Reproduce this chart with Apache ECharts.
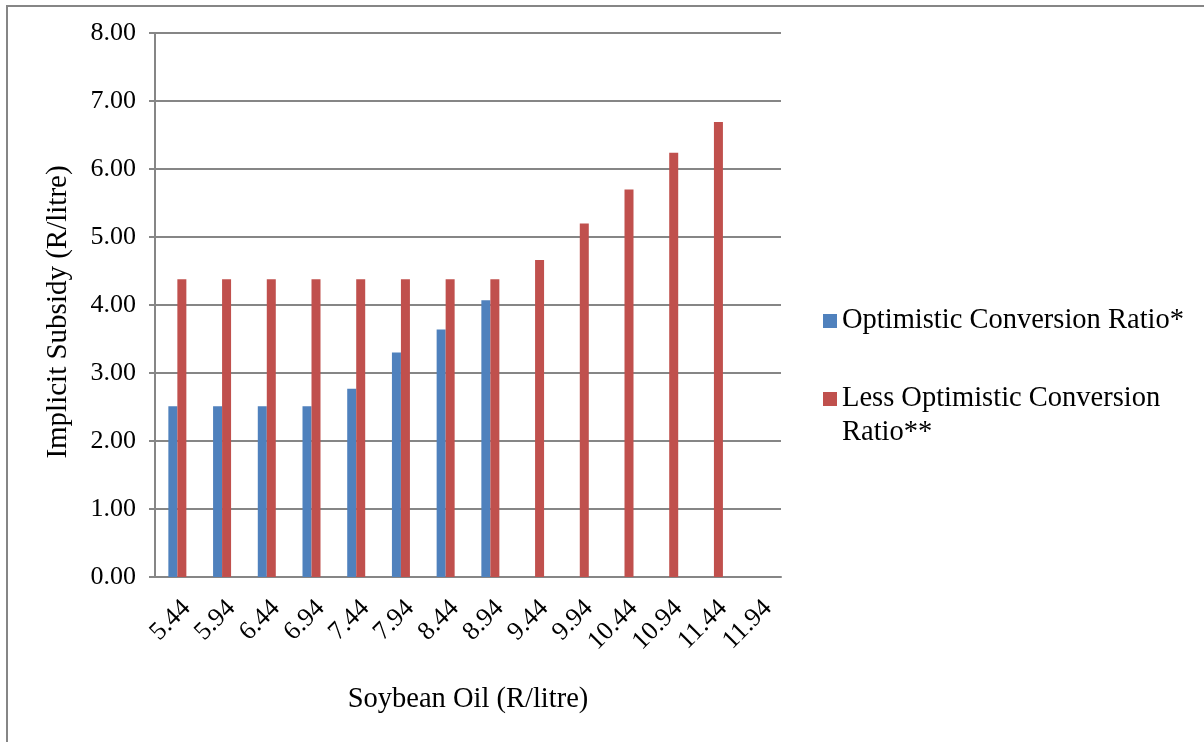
<!DOCTYPE html>
<html>
<head>
<meta charset="utf-8">
<script src="https://cdn.jsdelivr.net/npm/echarts@6/dist/echarts.min.js"></script>
<style>
  html, body { margin: 0; padding: 0; background: #ffffff; }
  #chart { width: 1204px; height: 742px; }
</style>
</head>
<body>
<div id="chart"></div>
<script>
// Soybean oil price (R/litre) on the category axis
const oilPrices = ['5.44', '5.94', '6.44', '6.94', '7.44', '7.94', '8.44', '8.94',
                   '9.44', '9.94', '10.44', '10.94', '11.44', '11.94'];

// Implicit subsidy (R/litre) under each conversion-ratio assumption
const optimisticSubsidy = [2.51, 2.51, 2.51, 2.51, 2.77, 3.30, 3.64, 4.07,
                           null, null, null, null, null, null];
const lessOptimisticSubsidy = [4.38, 4.38, 4.38, 4.38, 4.38, 4.38, 4.38, 4.38,
                               4.66, 5.20, 5.70, 6.24, 6.69, null];

const seriesNames = ['Optimistic Conversion Ratio*', 'Less Optimistic Conversion Ratio**'];
const yTicks = { min: 0, max: 8, step: 1 };

const FONT = "'Liberation Serif', 'Times New Roman', serif";
const GREY = '#868686';

const chart = echarts.init(document.getElementById('chart'));

const legendText = {
  fontFamily: FONT,
  fontSize: 28.5,
  color: '#000000',
  lineHeight: 34
};

// Square swatch sitting at the top of a taller box, so it lines up with
// the first line of a two-line legend entry.
const topSwatch = 'path://M0,0L14,0L14,14L0,14Z M0,48L0.01,48Z';

chart.setOption({
  backgroundColor: '#ffffff',
  animation: false,
  grid: { left: 155, top: 33, width: 626, height: 544, containLabel: false },
  legend: [
    {
      data: [seriesNames[0]],
      orient: 'vertical',
      left: 823,
      top: 304,
      padding: 0,
      icon: 'rect',
      itemWidth: 14,
      itemHeight: 14,
      itemGap: 0,
      selectedMode: false,
      textStyle: legendText
    },
    {
      data: [seriesNames[1]],
      orient: 'vertical',
      left: 823,
      top: 382,
      padding: 0,
      icon: topSwatch,
      itemWidth: 14,
      itemHeight: 48,
      itemGap: 0,
      selectedMode: false,
      formatter: function (name) {
        return name.replace(' Ratio**', '\nRatio**');
      },
      textStyle: legendText
    }
  ],
  xAxis: {
    type: 'category',
    data: oilPrices,
    name: 'Soybean Oil (R/litre)',
    nameLocation: 'middle',
    nameGap: 108,
    nameTextStyle: { fontFamily: FONT, fontSize: 28.5, color: '#000000' },
    axisLine: { lineStyle: { color: GREY, width: 2 } },
    axisTick: { alignWithLabel: true, length: 7, lineStyle: { color: GREY, width: 2 } },
    axisLabel: {
      interval: 0,
      rotate: 45,
      margin: 18,
      verticalAlign: 'top',
      fontFamily: FONT,
      fontSize: 26,
      color: '#000000'
    }
  },
  yAxis: {
    type: 'value',
    min: yTicks.min,
    max: yTicks.max,
    interval: yTicks.step,
    name: 'Implicit Subsidy (R/litre)',
    nameLocation: 'middle',
    nameGap: 82,
    nameTextStyle: { fontFamily: FONT, fontSize: 29, color: '#000000', padding: [0, 14, 0, 0] },
    axisLine: { show: true, lineStyle: { color: GREY, width: 2 } },
    axisTick: { show: true, inside: false, length: 6, lineStyle: { color: GREY, width: 2 } },
    splitLine: { lineStyle: { color: GREY, width: 2 } },
    axisLabel: {
      margin: 19,
      fontFamily: FONT,
      fontSize: 26,
      color: '#000000',
      formatter: function (v) { return v.toFixed(2); }
    }
  },
  series: [
    {
      name: seriesNames[0],
      type: 'bar',
      data: optimisticSubsidy,
      barWidth: 9,
      barGap: '0%',
      itemStyle: { color: '#4F81BD' }
    },
    {
      name: seriesNames[1],
      type: 'bar',
      data: lessOptimisticSubsidy,
      barWidth: 9,
      barGap: '0%',
      itemStyle: { color: '#C0504D' }
    }
  ],
  graphic: [
    {
      type: 'rect',
      silent: true,
      shape: { x: 7, y: 6, width: 1210, height: 800 },
      style: { fill: 'none', stroke: GREY, lineWidth: 2 }
    }
  ]
});
</script>
</body>
</html>
